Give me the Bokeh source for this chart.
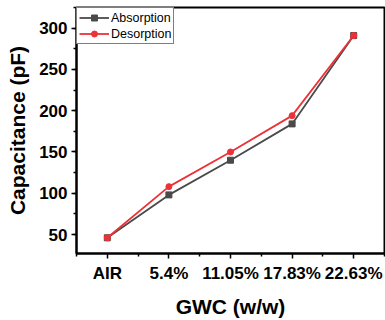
from bokeh.plotting import figure
from bokeh.models import FixedTicker, SingleIntervalTicker, Range1d, Legend, LegendItem
from bokeh.embed import file_html
from bokeh.resources import INLINE

# Gravimetric water content levels and measured capacitance (pF)
categories = ["AIR", "5.4%", "11.05%", "17.83%", "22.63%"]
absorption = [46, 98, 140, 184, 291]
desorption = [46, 108, 150, 194, 291]

x = list(range(len(categories)))

FONT = "Liberation Sans"
GRAY = "#4a4a4a"
RED = "#ec3237"

p = figure(width=385, height=320, output_backend="svg", toolbar_location=None,
           x_range=Range1d(-0.5, len(categories) - 0.5), y_range=Range1d(27, 325),
           min_border_left=76, min_border_right=1, min_border_top=7, min_border_bottom=65)

p.grid.visible = False
p.background_fill_color = "white"
p.border_fill_color = "white"
p.outline_line_color = "black"
p.outline_line_width = 2

r1 = p.line(x, absorption, line_color=GRAY, line_width=1.8)
m1 = p.scatter(x, absorption, marker="square", size=6, fill_color=GRAY, line_color=GRAY)
r2 = p.line(x, desorption, line_color=RED, line_width=1.8)
m2 = p.scatter(x, desorption, marker="circle", size=6, fill_color=RED, line_color=RED)

# x axis: one major tick per level, minor ticks halfway between
xa = p.xaxis[0]
xa.ticker = FixedTicker(ticks=x, minor_ticks=[i - 0.5 for i in range(len(categories) + 1)])
xa.major_label_overrides = {i: c for i, c in enumerate(categories)}
xa.axis_label = "GWC (w/w)"

ya = p.yaxis[0]
ya.ticker = SingleIntervalTicker(interval=50, num_minor_ticks=2)
ya.axis_label = "Capacitance (pF)"

for ax in (xa, ya):
    ax.axis_line_width = 2
    ax.axis_line_color = "black"
    ax.major_tick_line_width = 1.5
    ax.minor_tick_line_width = 1.5
    ax.major_tick_out = 5
    ax.major_tick_in = 0
    ax.minor_tick_out = 3
    ax.minor_tick_in = 0
    ax.major_label_text_font = FONT
    ax.major_label_text_font_style = "bold"
    ax.major_label_text_font_size = "17px"
    ax.major_label_text_color = "black"
    ax.axis_label_text_font = FONT
    ax.axis_label_text_font_style = "bold"
    ax.axis_label_text_font_size = "21px"
    ax.axis_label_text_color = "black"

xa.major_label_standoff = 5
xa.axis_label_standoff = 9
ya.major_label_standoff = 4
ya.axis_label_standoff = 7

legend = Legend(items=[LegendItem(label="Absorption", renderers=[r1, m1]),
                       LegendItem(label="Desorption", renderers=[r2, m2])],
                location="top_left", margin=0, padding=2, spacing=1,
                glyph_width=30, glyph_height=15, label_height=15, label_standoff=2,
                label_text_font=FONT, label_text_font_size="12.5px",
                label_text_color="black",
                border_line_color="black", border_line_width=1.2,
                background_fill_alpha=1)
p.add_layout(legend)

open("out.html", "w").write(file_html(p, INLINE))
